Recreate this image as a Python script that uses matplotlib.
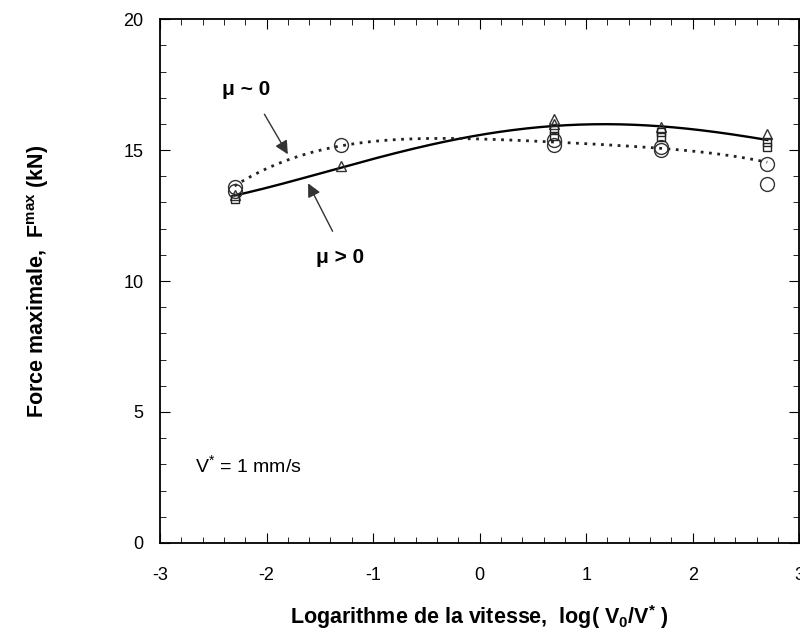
import numpy as np
import matplotlib.pyplot as plt
from matplotlib.ticker import MultipleLocator

# -------------------------
# DATA
# -------------------------
x_circ = [-2.3, -2.3, -1.3, 0.7, 0.7, 1.7, 1.7, 2.7, 2.7]
y_circ = [13.6, 13.45, 15.2, 15.4, 15.2, 15.1, 15.0, 14.45, 13.7]

x_tri = [-2.3, -1.3, 0.7, 0.7, 1.7, 2.7]
y_tri = [13.3, 14.4, 16.2, 16.0, 15.9, 15.6]

x_sq = [-2.3, 0.7, 0.7, 1.7, 1.7, 2.7, 2.7]
y_sq = [13.15, 15.75, 15.55, 15.7, 15.5, 15.3, 15.1]

# fitted curves (knots)
x_fit = [-2.3, -1.8, -1.3, -0.8, -0.3, 0.2, 0.7, 1.2, 1.7, 2.2, 2.7]
y_fit_mu_pos = [13.25, 13.8, 14.35, 14.85, 15.3, 15.7, 15.98, 16.0, 15.88, 15.68, 15.4]
y_fit_mu_zero = [13.6, 14.7, 15.15, 15.35, 15.42, 15.42, 15.35, 15.2, 15.05, 14.85, 14.55]

plt.rcParams['font.family'] = ['Liberation Sans', 'DejaVu Sans']
plt.rcParams['axes.unicode_minus'] = False
plt.rcParams['mathtext.fontset'] = 'custom'
plt.rcParams['mathtext.rm'] = 'Liberation Sans'
plt.rcParams['mathtext.bf'] = 'Liberation Sans:bold'

fig = plt.figure(figsize=(8, 6.38), dpi=100)
ax = fig.add_axes([0.2, 0.149, 0.799, 0.821])

# smooth the knots with a low order polynomial
xs = np.linspace(-2.3, 2.7, 200)
p_pos = np.polyfit(x_fit, y_fit_mu_pos, 4)
p_zero = np.polyfit(x_fit, y_fit_mu_zero, 4)
ax.plot(xs, np.polyval(p_pos, xs), color='black', lw=1.7)
ax.plot(xs, np.polyval(p_zero, xs), color='#222222', lw=2.0, ls=(0, (1, 2.0)))

ax.plot(x_circ, y_circ, 'o', mfc='none', mec='#333333', ms=10, mew=1.0)
ax.plot(x_tri, y_tri, '^', mfc='none', mec='#333333', ms=7, mew=1.0)
ax.plot(x_sq, y_sq, 's', mfc='none', mec='#222222', ms=6, mew=1.0)

# annotations
ax.text(-2.19, 17.3, 'μ ~ 0', ha='center', va='center', fontsize=15, fontweight='bold')
ax.annotate('', xy=(-1.80, 14.84), xytext=(-2.02, 16.37),
            arrowprops=dict(arrowstyle='-|>', color='#333333', lw=1.0,
                            mutation_scale=20, shrinkA=0, shrinkB=0))
ax.text(-1.31, 10.9, 'μ > 0', ha='center', va='center', fontsize=15, fontweight='bold')
ax.annotate('', xy=(-1.61, 13.73), xytext=(-1.38, 11.9),
            arrowprops=dict(arrowstyle='-|>', color='#333333', lw=1.0,
                            mutation_scale=20, shrinkA=0, shrinkB=0))
ax.text(-2.67, 2.94, r'V$^{*}$ = 1 mm/s', fontsize=14, ha='left', va='center')

ax.set_xlim(-3, 3)
ax.set_ylim(0, 20)
ax.xaxis.set_major_locator(MultipleLocator(1))
ax.xaxis.set_minor_locator(MultipleLocator(0.2))
ax.yaxis.set_major_locator(MultipleLocator(5))
ax.yaxis.set_minor_locator(MultipleLocator(1))
ax.tick_params(which='both', direction='in', top=True, right=True, labelsize=13)
ax.tick_params(axis='x', which='major', length=7, pad=17)
ax.tick_params(axis='y', which='major', length=7, pad=12)
ax.tick_params(which='minor', length=4)
for s in ax.spines.values():
    s.set_linewidth(1.3)

ax.set_xlabel(r'Logarithme de la vitesse,  log( V$_{\mathbf{0}}$/V$^{\mathbf{*}}$ )',
              fontsize=15.5, fontweight='bold', labelpad=14)
ax.set_ylabel(r'Force maximale,  F$^{\mathbf{max}}$ (kN)',
              fontsize=15.5, fontweight='bold', labelpad=52)

fig.savefig('out.png', dpi=100)
